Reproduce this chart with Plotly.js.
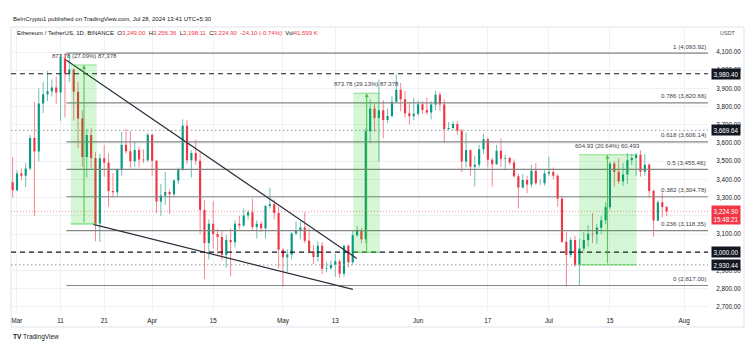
<!DOCTYPE html>
<html><head><meta charset="utf-8">
<script src="https://cdn.plot.ly/plotly-3.0.1.min.js"></script>
<style>html,body{margin:0;padding:0;background:#fff;}#chart{width:756px;height:351px;}</style>
</head><body><div id="chart"></div>
<script>
// ---------------- DATA ----------------
const firstDay = [2024, 1, 28]; // 2024-02-28 (daily candles, consecutive days)
const open = [3242,3384,3340,3433,3420,3460,3627,3553,3817,3868,3884,3905,3878,4066,3982,4004,3881,3735,3523,3644,3517,3158,3516,3493,3336,3329,3454,3590,3555,3500,3561,3510,3505,
3645,3503,3278,3312,3331,3318,3394,3453,3695,3505,3545,3502,3232,3050,3156,3100,3084,2984,3067,3055,3156,3147,3201,3219,3139,3156,3131,3254,3263,3216,
3014,2972,2988,3103,3118,3136,3063,3005,2974,3036,2909,2912,2930,2950,2881,3036,2945,3093,3122,3071,3664,3789,3737,3780,3727,3748,3826,3892,3841,3763,3747,
3761,3813,3781,3767,3811,3865,3811,3677,3682,3705,3667,3498,3560,3469,3481,3566,3621,3508,3483,3557,3514,3517,3493,3418,3355,3397,3372,3447,3379,3379,
3433,3440,3420,3294,3058,2985,3067,2930,3020,3067,3101,3099,3135,3175,3247,3487,3442,3388,3427,3505,3517,3535,3442,3481,3336,3174,3275,3249.00];
const high = [3487,3522,3450,3460,3490,3645,3826,3900,3935,3995,3950,3965,4087,4093.92,4083,4010,3935,3780,3678,3680,3550,3540,3588,3542,3435,3460,3660,3678,3665,3610,3580,3565,3655,
3650,3505,3375,3440,3345,3400,3465,3730,3728,3560,3618,3550,3285,3180,3280,3128,3120,3095,3130,3175,3200,3240,3230,3293,3175,3170,3260,3355,3290,3250,
3020,3015,3110,3170,3170,3220,3130,3040,3060,3055,2945,2955,2990,2960,3040,3043,3120,3145,3135,3680,3840,3815,3949,3835,3790,3860,3977,3930,3886,3825,3848,
3835,3830,3850,3830,3888,3880,3840,3715,3720,3720,3678,3658,3565,3530,3590,3650,3630,3520,3590,3625,3535,3525,3510,3430,3430,3420,3480,3490,3400,3450,
3525,3465,3430,3310,3110,3082,3090,3075,3110,3150,3215,3155,3200,3275,3495,3500,3515,3490,3545,3540,3545,3560,3540,3490,3345,3285,3327,3256.36];
const low = [3195,3300,3336,3395,3358,3450,3200,3500,3765,3830,3855,3815,3722,3740,3935,3723,3570,3470,3410,3460,3060,3056,3415,3250,3300,3305,3420,3540,3460,3470,3465,3490,3495,
3420,3215,3200,3260,3210,3305,3375,3445,3485,3410,3480,3100,2852,2960,3020,2990,2955,2915,2867,3025,3125,3140,3180,3120,3075,3110,3075,3240,3180,2910,
2810,2890,2960,3095,3070,3050,3000,2935,2950,2880,2890,2905,2865,2860,2865,2915,2930,3085,3050,3050,3600,3660,3500,3625,3710,3740,3825,3775,3740,3702,3725,
3750,3760,3755,3730,3780,3775,3600,3670,3670,3645,3440,3465,3420,3360,3465,3540,3465,3360,3480,3470,3450,3480,3410,3240,3350,3325,3355,3370,3370,3365,
3420,3400,3250,3050,2810,2970,2920,2817,3005,3030,3050,3045,3100,3155,3235,3360,3375,3365,3375,3478,3420,3415,3420,3300,3085,3170,3190,3198.11];
const close = [3384,3340,3433,3420,3460,3627,3553,3817,3868,3884,3905,3878,4066,3982,4004,3881,3735,3523,3644,3517,3158,3516,3493,3336,3329,3454,3590,3555,3500,3561,3510,3505,3645,
3503,3278,3312,3331,3318,3394,3453,3695,3505,3545,3502,3232,3050,3156,3100,3084,2984,3067,3055,3156,3147,3201,3219,3139,3156,3131,3254,3263,3216,3014,
2972,2988,3103,3118,3136,3063,3005,2974,3036,2909,2912,2930,2950,2881,3036,2945,3093,3122,3071,3664,3789,3737,3780,3727,3748,3826,3892,3841,3763,3747,3761,
3813,3781,3767,3811,3865,3811,3677,3682,3705,3667,3498,3560,3469,3481,3566,3621,3508,3483,3557,3514,3517,3493,3418,3355,3397,3372,3447,3379,3379,3433,
3440,3420,3294,3058,2985,3067,2930,3020,3067,3101,3099,3135,3175,3247,3487,3442,3388,3427,3505,3517,3535,3442,3481,3336,3174,3275,3249,3224.90];
const volumeLast = '41.599 K';
const prevClose = 3249.00;

// Fibonacci retracement levels
const fibRatios = ['1','0.786','0.618','0.5','0.382','0.236','0'];
const fibPrices = [4093.92,3820.66,3606.14,3455.46,3304.78,3118.35,2817.00];

// horizontal price levels
const levelPrices = [3980.40,3669.64,3000.00,2930.44];
const levelStyles = ['dash','dot','dash','dot'];

// price-range measurement boxes
const boxLabels = ['873.78 (27.09%) 87,378','873.78 (29.13%) 87,378','604.93 (20.64%) 60,493'];
const boxStart = ['2024-03-13 08:00','2024-05-17 03:00','2024-07-07 22:00'];
const boxEnd   = ['2024-03-19 07:00','2024-05-23 06:00','2024-07-21 03:00'];
const boxMid   = ['2024-03-16 09:00','2024-05-20 05:00','2024-07-14 10:00'];
const boxLow   = [3155, 3000, 2930.44];
const boxHigh  = [4029, 3873.78, 3535.37];

// trend lines (falling wedge)
const trendX0 = ['2024-03-12 06:00','2024-03-18 12:00'];
const trendY0 = [4056, 3153];
const trendX1 = ['2024-05-17 22:00','2024-05-17 01:00'];
const trendY1 = [2966, 2796];
const fibStart = '2024-03-12 08:00';

// axis ticks
const xTickVals = ['2024-03-01','2024-03-11','2024-03-21','2024-04-01','2024-04-15','2024-05-01','2024-05-13','2024-06-01','2024-06-17','2024-07-01','2024-07-15','2024-08-01'];
const xTickText = ['Mar','11','21','Apr','15','May','13','Jun','17','Jul','15','Aug'];
const yTickVals = [2700,2800,2900,3000,3100,3200,3300,3400,3500,3600,3700,3800,3900,4000,4100];
const yTicksCoveredByTags = [3000, 3200]; // labels hidden behind the price tags in the reference

// ---------------- BUILD ----------------
const FONT = '"Liberation Sans", Arial, sans-serif';
const UP = '#089981', DN = '#f23645', GRID = '#eff1f5';
const fmt = v => Number(v).toLocaleString('en-US',{minimumFractionDigits:2, maximumFractionDigits:2});

const dates = close.map((_, i) => new Date(Date.UTC(firstDay[0], firstDay[1], firstDay[2] + i)).toISOString().slice(0,10));

function wicks(up){
  const x=[], y=[];
  for(let i=0;i<close.length;i++){
    if((close[i] >= open[i]) !== up) continue;
    x.push(dates[i], dates[i], null); y.push(low[i], high[i], null);
  }
  return {type:'scatter', mode:'lines', x, y, hoverinfo:'skip',
    line:{color: up ? 'rgba(8,153,129,0.6)' : 'rgba(242,54,69,0.6)', width:1}};
}
const bodies = {type:'candlestick', x:dates, open, high, low, close, whiskerwidth:0, hoverinfo:'skip',
  increasing:{line:{color:UP, width:0}, fillcolor:UP},
  decreasing:{line:{color:DN, width:0}, fillcolor:DN}};

// pixel helpers for page furniture (plot area 11..708 x 27..311)
const PL=11, PR=708, PT=27, PB=311;
const px = p => (p-PL)/(PR-PL);
const py = p => (PB-p)/(PB-PT);
const xRange = ['2024-02-28 15:00','2024-08-06 11:45'];

const shapes = [];
const annotations = [];

// frame
shapes.push({type:'rect', xref:'paper', yref:'paper', x0:px(11), x1:px(744), y0:py(327), y1:py(27), line:{color:'#e0e3eb', width:1}, layer:'below'});

// current price line
const last = close.length-1;
shapes.push({type:'line', xref:'x', yref:'y', x0:xRange[0], x1:xRange[1], y0:close[last], y1:close[last], line:{color:'rgba(242,54,69,0.55)', width:1, dash:'1px,2px'}});

// levels
levelPrices.forEach((p,i)=>{
  const dash = levelStyles[i]==='dash';
  shapes.push({type:'line', xref:'x', yref:'y', x0:xRange[0], x1:xRange[1], y0:p, y1:p,
    line:{color: dash ? '#131722' : '#9598a1', width: dash?1.2:1, dash: dash ? '5px,4px' : '1.5px,2.5px'}});
});

// fib lines + labels
fibPrices.forEach((p,i)=>{
  shapes.push({type:'line', xref:'x', yref:'y', x0:fibStart, x1:xRange[1], y0:p, y1:p, line:{color:'#858585', width:1.2}});
  annotations.push({xref:'paper', x:1, xanchor:'right', yref:'y', y:p, yanchor:'middle', yshift:7, showarrow:false,
    text: fibRatios[i] + ' (' + fmt(p) + ')', font:{family:FONT, size:6.2, color:'#3a3d48'}});
});

// trend lines
trendX0.forEach((x0,i)=>{
  shapes.push({type:'line', xref:'x', yref:'y', x0, y0:trendY0[i], x1:trendX1[i], y1:trendY1[i], line:{color:'#2a2e39', width:1.2}});
});

// measurement boxes
boxLabels.forEach((lab,i)=>{
  shapes.push({type:'rect', xref:'x', yref:'y', x0:boxStart[i], x1:boxEnd[i], y0:boxLow[i], y1:boxHigh[i],
    fillcolor:'rgba(0,205,0,0.16)', line:{width:0}, layer:'above'});
  shapes.push({type:'line', xref:'x', yref:'y', x0:boxStart[i], x1:boxEnd[i], y0:boxHigh[i], y1:boxHigh[i], line:{color:'rgba(60,200,60,0.55)', width:1}});
  shapes.push({type:'line', xref:'x', yref:'y', x0:boxStart[i], x1:boxEnd[i], y0:boxLow[i], y1:boxLow[i], line:{color:'rgba(60,200,60,0.8)', width:1}});
  annotations.push({xref:'x', yref:'y', x:boxMid[i], y:boxHigh[i], ax:boxMid[i], ay:boxLow[i], axref:'x', ayref:'y',
    text:'', showarrow:true, arrowhead:2, arrowsize:0.8, arrowwidth:1, arrowcolor:'rgba(60,190,60,0.9)', standoff:0, startstandoff:0});
  annotations.push({xref:'x', yref:'y', x:boxMid[i], y:boxHigh[i], yanchor:'bottom', yshift:4, showarrow:false,
    text:lab, font:{family:FONT, size:6, color:'#3a3d48'}});
});

// price tags on the scale
levelPrices.forEach(p=>{
  annotations.push({xref:'paper', x:1, xanchor:'left', xshift:3, yref:'y', y:p, yanchor:'middle', showarrow:false,
    text:fmt(p), bgcolor:'#131722', borderpad:1.5, font:{family:FONT, size:6.3, color:'#ffffff'}});
});
annotations.push({xref:'paper', x:1, xanchor:'left', xshift:3, yref:'y', y:close[last], yanchor:'middle', yshift:-4, showarrow:false,
  text: fmt(close[last]) + '<br>15:48:21', bgcolor:DN, borderpad:1.5, align:'center', font:{family:FONT, size:6.3, color:'#ffffff'}});

// header texts
annotations.push({xref:'paper', yref:'paper', x:px(11), y:py(19), xanchor:'left', yanchor:'middle', showarrow:false,
  text:'BeInCrypto1 published on TradingView.com, Jul 28, 2024 13:41 UTC+5:30', font:{family:FONT, size:6, color:'#131722'}});
const chg = close[last]-prevClose;
const red = s => '<span style="color:'+DN+'">'+s+'</span>';
const sp = '\u00a0\u00a0';
annotations.push({xref:'paper', yref:'paper', x:px(15), y:py(33), xanchor:'left', yanchor:'middle', showarrow:false,
  text:'Ethereum / TetherUS, 1D, BINANCE'+sp+'O'+red(fmt(open[last]))+sp+'H'+red(fmt(high[last]))+sp+'L'+red(fmt(low[last]))+sp+'C'+red(fmt(close[last]))+sp+
       red(fmt(chg)+' ('+(chg/prevClose*100).toFixed(2)+'%)')+sp+'Vol'+red(volumeLast),
  font:{family:FONT, size:6, color:'#131722'}});
annotations.push({xref:'paper', yref:'paper', x:px(728), y:py(33), xanchor:'center', yanchor:'middle', showarrow:false,
  text:'USDT', font:{family:FONT, size:5.5, color:'#50535e'}});
annotations.push({xref:'paper', yref:'paper', x:px(11), y:py(337), xanchor:'left', yanchor:'middle', showarrow:false,
  text:'<b>TV</b> TradingView', font:{family:FONT, size:6.5, color:'#131722'}});

const layout = {
  width:756, height:351,
  margin:{l:PL, r:756-PR, t:PT, b:351-PB, pad:0},
  paper_bgcolor:'#ffffff', plot_bgcolor:'#ffffff',
  showlegend:false, hovermode:false,
  font:{family:FONT, size:6.3, color:'#131722'},
  xaxis:{type:'date', range:xRange, tickvals:xTickVals, ticktext:xTickText, showgrid:true, gridcolor:GRID, gridwidth:1,
    zeroline:false, showline:false, ticks:'outside', ticklen:3, tickcolor:'rgba(0,0,0,0)', tickfont:{family:FONT, size:6.3, color:'#131722'},
    rangeslider:{visible:false}, fixedrange:true},
  yaxis:{side:'right', range:[2676.9, 4237.4], tickvals:yTickVals,
    ticktext:yTickVals.map(v => yTicksCoveredByTags.includes(v) ? '' : fmt(v)), showgrid:true, gridcolor:GRID, gridwidth:1,
    zeroline:false, showline:false, ticks:'outside', ticklen:6, tickcolor:'rgba(0,0,0,0)', tickfont:{family:FONT, size:6.3, color:'#131722'}, fixedrange:true},
  shapes, annotations
};
Plotly.newPlot('chart', [wicks(true), wicks(false), bodies], layout, {staticPlot:true, displayModeBar:false});
</script>
</body></html>
